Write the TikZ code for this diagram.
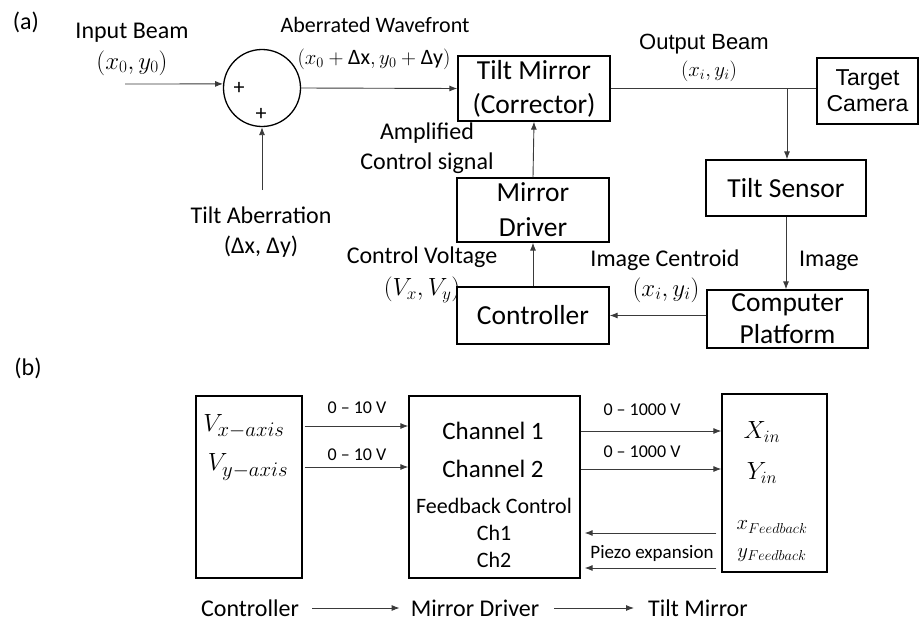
\documentclass[tikz,border=0pt]{standalone}
\usepackage{fontspec}
\setmainfont{Carlito}
\newfontfamily\arialf{Liberation Sans}
\usetikzlibrary{arrows.meta}
\definecolor{lin}{HTML}{3A3A3A}
\tikzset{
  box/.style={draw=black, line width=1.3pt, align=center, inner sep=0pt},
  arr/.style={draw=lin, line width=0.9pt, -{Latex[length=8pt,width=6pt]}},
  lab/.style={inner sep=0pt, align=center},
  fsz/.style={font=\fontsize{#1}{#1}\selectfont},
  fsl/.style n args={2}{font=\fontsize{#1}{#2}\selectfont},
}
\begin{document}
\begin{tikzpicture}[x=1pt,y=-1pt]
\useasboundingbox (0,0) rectangle (919,621);
% ---------- (a) ----------
\node[lab, fsz=24] (la) at (26,22) {(a)};
\node[lab, fsz=24] (inbeam) at (132,33) {Input Beam};
\node[lab, fsz=24] (inxy) at (132,63) {$(x_0, y_0)$};
\node[circle, draw=black, line width=1.3pt, minimum size=77pt, inner sep=0pt] (sum) at (262,88) {};
\node[lab, fsz=22] (p1) at (239,88) {+};
\node[lab, fsz=22] (p2) at (261,114) {+};
\coordinate (inb) at (125,84);
\draw[arr] (inb) -- (sum.174);
\coordinate (ta) at (262,190);
\draw[arr] (ta) -- (sum.south);
\node[lab, fsz=24] (tab) at (261,215) {Tilt Aberration};
\node[lab, fsz=24] (tabxy) at (261,247) {(Δx, Δy)};
\node[lab, fsz=22] (aw) at (375,25) {Aberrated Wavefront};
\node[lab, fsz=22] (awxy) at (374,59) {$(x_0 + \hbox{Δx}, y_0 + \hbox{Δy})$};
\node[box, fsl={27.5}{34}, minimum width=152pt, minimum height=65pt] (tm) at (534,88.5) {Tilt Mirror\\(Corrector)};
\draw[arr] (sum.east) -- (tm.west);
\node[box, minimum width=101pt, minimum height=66pt, font=\arialf\fontsize{23}{26}\selectfont] (tc) at (867.5,91) {Target\\Camera};
\draw[draw=lin, line width=0.9pt] (tm.east) -- (tm.east -| tc.west);
\coordinate (br) at (787,88.5);
\node[lab, font=\arialf\fontsize{22}{22}\selectfont] (ob) at (704,44) {Output Beam};
\node[lab, fsz=22] (obxy) at (709,71) {$(x_i, y_i)$};
\node[box, fsz=27.5, minimum width=160pt, minimum height=56pt] (ts) at (786,188) {Tilt Sensor};
\draw[arr] (br) -- (br |- ts.north);
\node[box, fsl={27.5}{32}, minimum width=161pt, minimum height=58pt] (cp) at (787.5,319) {Computer\\Platform};
\draw[arr] (ts.south) -- (ts.south |- cp.north);
\node[lab, fsz=24] (img) at (829,261) {Image};
\node[box, fsz=27.5, minimum width=152pt, minimum height=57pt] (ctrl) at (533,315.5) {Controller};
\draw[arr] (ctrl.east -| cp.west) -- (ctrl.east);
\node[lab, fsz=24] (ic) at (665,260) {Image Centroid};
\node[lab, fsz=24] (icxy) at (666,290) {$(x_i, y_i)$};
\node[box, fsl={27.5}{35}, minimum width=152pt, minimum height=64pt] (md) at (533,210) {Mirror\\Driver};
\draw[arr] (ctrl.north) -- (md.south);
\draw[arr] (md.north) -- (tm.south);
\node[lab, fsl={24}{30}] (amp) at (427,148) {Amplified\\Control signal};
\node[lab, fsz=24] (cv) at (422,257) {Control Voltage};
\node[lab, fsz=24] (cvxy) at (422,290) {$(V_x, V_y)$};
% ---------- (b) ----------
\node[lab, fsz=24] (lb) at (28,368) {(b)};
\node[box, minimum width=106pt, minimum height=182pt] (cb) at (249,487) {};
\node[box, minimum width=171pt, minimum height=182pt] (mdb) at (494.5,487) {};
\node[box, minimum width=105pt, minimum height=178pt] (tmb) at (774.5,483) {};
\node[lab, fsz=28] (vx) at (244,426) {$V_{x-axis}$};
\node[lab, fsz=28] (vy) at (248,467) {$V_{y-axis}$};
\node[lab, fsz=25] (ch1) at (493,431) {Channel 1};
\node[lab, fsz=25] (ch2) at (493,469) {Channel 2};
\node[lab, fsz=22] (fc) at (494,506) {Feedback Control};
\node[lab, fsz=22] (c1) at (494,533) {Ch1};
\node[lab, fsz=22] (c2) at (494,560) {Ch2};
\node[lab, fsz=26] (xin) at (762,432) {$X_{in}$};
\node[lab, fsz=26] (yin) at (762,473) {$Y_{in}$};
\node[lab, fsz=22] (xfb) at (772,527) {$x_{Feedback}$};
\node[lab, fsz=22] (yfb) at (772,555) {$y_{Feedback}$};
\draw[arr, shorten <=2pt] (vx -| cb.east) -- (vx -| mdb.west);
\draw[arr, shorten <=2pt] (vy -| cb.east) -- (vy -| mdb.west);
\node[lab, fsz=18] (v10a) at (357,408) {0 – 10 V};
\node[lab, fsz=18] (v10b) at (357,455) {0 – 10 V};
\draw[arr] (ch1 -| mdb.east) -- (ch1 -| tmb.west);
\draw[arr] (ch2 -| mdb.east) -- (ch2 -| tmb.west);
\node[lab, fsz=18] (v1000a) at (642,410) {0 – 1000 V};
\node[lab, fsz=18] (v1000b) at (642,452) {0 – 1000 V};
\coordinate (fb1) at (0,533);
\coordinate (fb2) at (0,568);
\draw[arr, shorten <=5pt, shorten >=4pt] (fb1 -| tmb.west) -- (fb1 -| mdb.east);
\draw[arr, shorten <=5pt, shorten >=4pt] (fb2 -| tmb.west) -- (fb2 -| mdb.east);
\node[lab, fsz=19] (pe) at (652,553) {Piezo expansion};
\node[lab, fsz=24] (bc) at (250,608) {Controller};
\node[lab, fsz=24] (bmd) at (475,608) {Mirror Driver};
\node[lab, fsz=24] (btm) at (698,608) {Tilt Mirror};
\draw[arr, shorten <=13pt, shorten >=11pt] (bc.east) -- (bmd.west);
\draw[arr, shorten <=15pt, shorten >=14pt] (bmd.east) -- (btm.west);
\end{tikzpicture}
\end{document}
